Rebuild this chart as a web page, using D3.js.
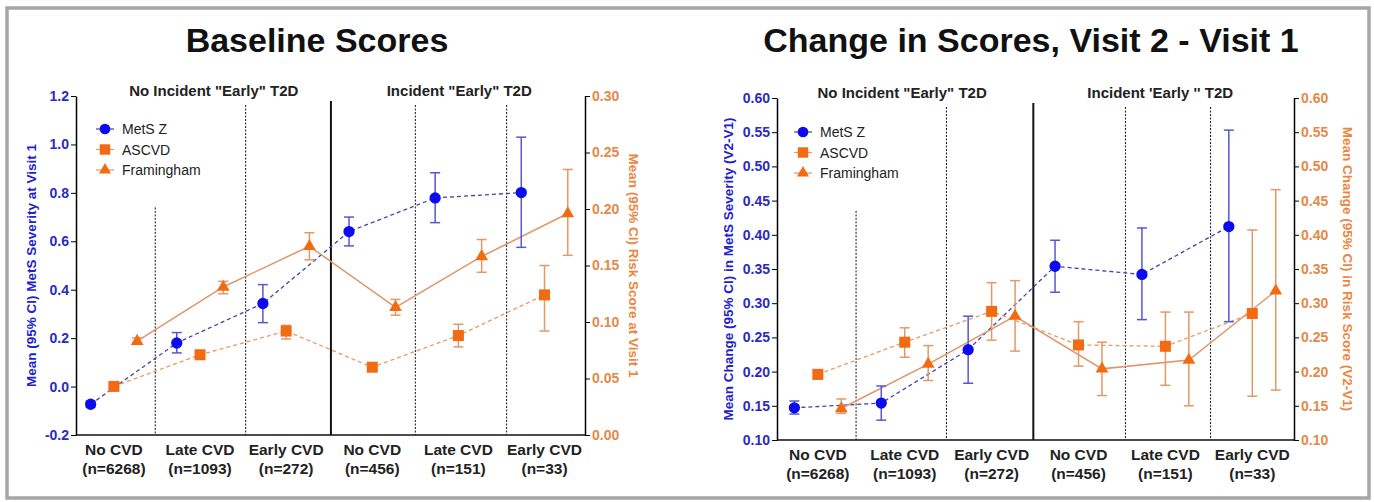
<!DOCTYPE html>
<html>
<head>
<meta charset="utf-8">
<script src="https://cdn.jsdelivr.net/npm/d3@7"></script>
<style>
  body { margin: 0; background: #fff; }
  svg { display: block; }
  text { font-family: Arial, "Liberation Sans", sans-serif; }
</style>
</head>
<body>
<svg id="chart" width="1374" height="502"></svg>
<script>
// ---- data ----
var groups = ["No CVD", "Late CVD", "Early CVD", "No CVD", "Late CVD", "Early CVD"];
var groupN = ["(n=6268)", "(n=1093)", "(n=272)", "(n=456)", "(n=151)", "(n=33)"];
var seriesNames = ["MetS Z", "ASCVD", "Framingham"];

// baseline (visit 1)
var baseMets   = [-0.073, 0.180, 0.343, 0.640, 0.779, 0.801];
var baseMetsLo = [-0.085, 0.139, 0.264, 0.581, 0.677, 0.575];
var baseMetsHi = [-0.060, 0.223, 0.421, 0.700, 0.883, 1.030];
var baseAscvd   = [0.043, 0.071, 0.092, 0.060, 0.088, 0.124];
var baseAscvdLo = [0.041, 0.069, 0.085, 0.057, 0.078, 0.092];
var baseAscvdHi = [0.046, 0.074, 0.097, 0.062, 0.098, 0.150];
var baseFram   = [0.083, 0.131, 0.167, 0.113, 0.158, 0.196];
var baseFramLo = [0.081, 0.125, 0.155, 0.106, 0.144, 0.159];
var baseFramHi = [0.086, 0.136, 0.179, 0.120, 0.173, 0.235];

// change, visit 2 - visit 1
var chgMets   = [0.147, 0.154, 0.232, 0.354, 0.342, 0.412];
var chgMetsLo = [0.138, 0.129, 0.183, 0.316, 0.276, 0.273];
var chgMetsHi = [0.157, 0.179, 0.281, 0.392, 0.410, 0.553];
var chgAscvd   = [0.196, 0.243, 0.288, 0.239, 0.237, 0.285];
var chgAscvdLo = [0.189, 0.221, 0.246, 0.208, 0.180, 0.164];
var chgAscvdHi = [0.201, 0.264, 0.330, 0.273, 0.287, 0.407];
var chgFram   = [0.146, 0.211, 0.281, 0.204, 0.217, 0.318];
var chgFramLo = [0.139, 0.187, 0.230, 0.165, 0.150, 0.173];
var chgFramHi = [0.160, 0.238, 0.333, 0.243, 0.287, 0.466];

// ---- styling ----
var blueMark = "#0b0bee", orangeMark = "#f26a12";
var leftTxt = "#2a2ac4", rightTxt = "#e4894a";

var svg = d3.select("#chart");

// outer grey frame
svg.append("rect")
  .attr("x", 7).attr("y", 8).attr("width", 1362).attr("height", 490)
  .attr("fill", "none").attr("stroke", "#a6a6a6").attr("stroke-width", 3.5);

function drawPanel(cfg) {
  var g = svg.append("g");
  var x = d3.scaleLinear().domain(cfg.xDomain).range([cfg.left, cfg.right]);
  var yL = d3.scaleLinear().domain(cfg.yLeft).range([cfg.bottom, cfg.top]);
  var yR = d3.scaleLinear().domain(cfg.yRight).range([cfg.bottom, cfg.top]);

  // title
  g.append("text")
    .attr("x", cfg.titleX).attr("y", 52)
    .attr("text-anchor", "middle")
    .style("font-size", "34px").style("font-weight", "bold").attr("fill", "#111")
    .text(cfg.title);

  // sub headers
  cfg.headers.forEach(function(h) {
    g.append("text")
      .attr("x", x(h.at)).attr("y", cfg.top)
      .attr("text-anchor", "middle")
      .style("font-size", "15px").style("font-weight", "bold").attr("fill", "#222")
      .text(h.label);
  });

  // dividers
  cfg.dividers.forEach(function(d, i) {
    var solid = (i == 2);
    var yTop = (i == 0) ? yL(cfg.firstDivTop) : cfg.top + (solid ? 5 : 9);
    g.append("line")
      .attr("x1", x(d)).attr("x2", x(d))
      .attr("y1", yTop).attr("y2", cfg.bottom)
      .attr("stroke", "#111")
      .attr("stroke-width", solid ? 2 : 1)
      .attr("stroke-dasharray", solid ? null : "2,1.5");
  });

  // axes
  g.append("g")
    .attr("transform", "translate(" + cfg.left + ",0)")
    .call(d3.axisLeft(yL).tickValues(cfg.leftTicks).tickSize(5).tickSizeOuter(0)
      .tickFormat(function(d) { return d.toFixed(cfg.leftDec); }))
    .call(function(a) {
      a.select(".domain").attr("stroke-width", 1.5);
      a.selectAll("text").attr("fill", leftTxt)
        .style("font-size", "14px").style("font-weight", "bold").attr("x", -7);
    });

  g.append("g")
    .attr("transform", "translate(" + cfg.right + ",0)")
    .call(d3.axisRight(yR).tickValues(cfg.rightTicks).tickSize(5).tickSizeOuter(0)
      .tickFormat(function(d) { return d.toFixed(2); }))
    .call(function(a) {
      a.select(".domain").attr("stroke-width", 1.5);
      a.selectAll("text").attr("fill", rightTxt)
        .style("font-size", "14px").style("font-weight", "bold").attr("x", 7);
    });

  g.append("line")
    .attr("x1", cfg.left).attr("x2", cfg.right)
    .attr("y1", cfg.bottom).attr("y2", cfg.bottom)
    .attr("stroke", "#111").attr("stroke-width", 1.5);

  // axis titles
  var midY = (cfg.top + cfg.bottom) / 2;
  g.append("text")
    .attr("transform", "translate(" + cfg.leftTitleX + "," + midY + ") rotate(-90)")
    .attr("text-anchor", "middle")
    .style("font-size", "13.5px").style("font-weight", "bold").attr("fill", "#2222cc")
    .text(cfg.leftTitle);
  g.append("text")
    .attr("transform", "translate(" + cfg.rightTitleX + "," + midY + ") rotate(90)")
    .attr("text-anchor", "middle")
    .style("font-size", "13.5px").style("font-weight", "bold").attr("fill", "#ea8640")
    .text(cfg.rightTitle);

  // category labels
  groups.forEach(function(name, i) {
    var t = g.append("text")
      .attr("x", x(i)).attr("y", cfg.bottom + 20)
      .attr("text-anchor", "middle")
      .style("font-size", "15.5px").style("font-weight", "bold").attr("fill", "#222");
    t.append("tspan").attr("x", x(i)).text(name);
    t.append("tspan").attr("x", x(i)).attr("dy", 18.5).text(groupN[i]);
  });

  // series
  var series = [
    { name: seriesNames[0], vals: cfg.mets, lo: cfg.metsLo, hi: cfg.metsHi, y: yL, off: -0.27,
      sym: d3.symbolCircle, size: 100, mark: blueMark, line: "#4545a0", dash: "4,3", lw: 1.3, err: "#5656d6" },
    { name: seriesNames[1], vals: cfg.ascvd, lo: cfg.ascvdLo, hi: cfg.ascvdHi, y: yR, off: 0,
      sym: d3.symbolSquare, size: 121, mark: orangeMark, line: "#e89a62", dash: "4,3", lw: 1.3, err: "#e39866" },
    { name: seriesNames[2], vals: cfg.fram, lo: cfg.framLo, hi: cfg.framHi, y: yR, off: 0.27,
      sym: d3.symbolTriangle, size: 70, mark: orangeMark, line: "#e0956a", dash: null, lw: 1.5, err: "#e39866" }
  ];

  series.forEach(function(s) {
    var line = d3.line()
      .x(function(d, i) { return x(i + s.off); })
      .y(function(d) { return s.y(d); });
    g.append("path")
      .datum(s.vals)
      .attr("d", line)
      .attr("fill", "none").attr("stroke", s.line)
      .attr("stroke-width", s.lw).attr("stroke-dasharray", s.dash);
  });

  series.forEach(function(s) {
    var eg = g.append("g").attr("stroke", s.err).attr("stroke-width", 1.5);
    s.vals.forEach(function(v, i) {
      var cx = x(i + s.off);
      eg.append("line").attr("x1", cx).attr("x2", cx)
        .attr("y1", s.y(s.lo[i])).attr("y2", s.y(s.hi[i]));
      [s.lo[i], s.hi[i]].forEach(function(e) {
        eg.append("line").attr("x1", cx - 5).attr("x2", cx + 5)
          .attr("y1", s.y(e)).attr("y2", s.y(e));
      });
    });
    g.selectAll(null)
      .data(s.vals)
      .enter().append("path")
        .attr("d", d3.symbol().type(s.sym).size(s.size))
        .attr("transform", function(d, i) { return "translate(" + x(i + s.off) + "," + s.y(d) + ")"; })
        .attr("fill", s.mark);
  });

  // legend
  series.forEach(function(s, i) {
    var lx = cfg.left + cfg.legendDx, ly = cfg.top + cfg.legendDy + i * 20.5;
    g.append("line")
      .attr("x1", lx - 9).attr("x2", lx + 9).attr("y1", ly).attr("y2", ly)
      .attr("stroke", s.line).attr("stroke-width", 1.2);
    g.append("path")
      .attr("d", d3.symbol().type(s.sym).size(s.size * 0.9))
      .attr("transform", "translate(" + lx + "," + ly + ")")
      .attr("fill", s.mark);
    g.append("text")
      .attr("x", lx + 17).attr("y", ly + 5)
      .style("font-size", "14px").attr("fill", "#222")
      .text(s.name);
  });
}

drawPanel({
  title: "Baseline Scores", titleX: 317,
  left: 76, right: 585, top: 96, bottom: 435,
  xDomain: [-0.44, 5.47],
  yLeft: [-0.2, 1.2], yRight: [0, 0.3],
  leftTicks: [-0.2, 0, 0.2, 0.4, 0.6, 0.8, 1.0, 1.2], leftDec: 1,
  rightTicks: [0, 0.05, 0.1, 0.15, 0.2, 0.25, 0.3],
  headers: [{ label: "No Incident \"Early\" T2D", at: 1.16 }, { label: "Incident \"Early\" T2D", at: 4.01 }],
  dividers: [0.48, 1.53, 2.52, 3.5, 4.56], firstDivTop: 0.74,
  leftTitle: "Mean (95% CI) MetS Severity at Visit 1", leftTitleX: 36,
  rightTitle: "Mean (95% CI) Risk Score at Visit 1", rightTitleX: 629,
  legendDx: 29, legendDy: 33,
  mets: baseMets, metsLo: baseMetsLo, metsHi: baseMetsHi,
  ascvd: baseAscvd, ascvdLo: baseAscvdLo, ascvdHi: baseAscvdHi,
  fram: baseFram, framLo: baseFramLo, framHi: baseFramHi
});

drawPanel({
  title: "Change in Scores, Visit 2 - Visit 1", titleX: 1031,
  left: 777, right: 1294, top: 98, bottom: 440,
  xDomain: [-0.47, 5.48],
  yLeft: [0.1, 0.6], yRight: [0.1, 0.6],
  leftTicks: d3.range(0.1, 0.601, 0.05), leftDec: 2,
  rightTicks: d3.range(0.1, 0.601, 0.05),
  headers: [{ label: "No Incident \"Early\" T2D", at: 0.97 }, { label: "Incident 'Early '' T2D", at: 3.94 }],
  dividers: [0.44, 1.48, 2.48, 3.54, 4.52], firstDivTop: 0.435,
  leftTitle: "Mean Change (95% CI) in MetS Severity (V2-V1)", leftTitleX: 733,
  rightTitle: "Mean Change (95% CI) in Risk Score (V2-V1)", rightTitleX: 1343,
  legendDx: 26, legendDy: 34,
  mets: chgMets, metsLo: chgMetsLo, metsHi: chgMetsHi,
  ascvd: chgAscvd, ascvdLo: chgAscvdLo, ascvdHi: chgAscvdHi,
  fram: chgFram, framLo: chgFramLo, framHi: chgFramHi
});
</script>
</body>
</html>
